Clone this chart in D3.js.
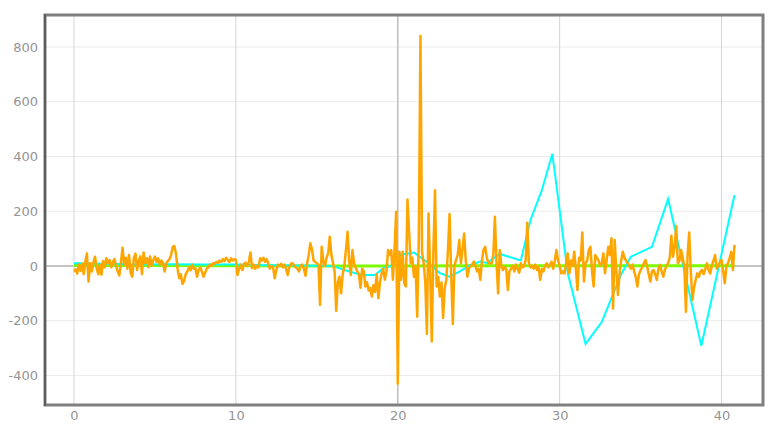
<!DOCTYPE html>
<meta charset="utf-8">
<style>
body { margin: 0; background: #fff; }
.tick text { font-family: "DejaVu Sans", sans-serif; font-size: 13px; fill: #949494; }
</style>
<body>
<script src="https://cdn.jsdelivr.net/npm/d3@7"></script>
<script>
var width = 779,
    height = 433;

// orange trace, sampled every 0.1 s from t = 0
var orangeStart = 0, orangeStep = 0.1;
var orangeValues = [
  -20, -12, -28, 5, -18, 8, -30, 15, 46, -57,
  10, -20, 12, 34, -8, -30, 5, -32, 18, -5,
  28, 10, 22, -5, 15, 25, 0, -20, -35, 12,
  67, 5, 30, -10, 40, -25, -39, 30, 45, -15,
  20, 35, -30, 49, 10, 28, -5, 35, 0, 22,
  34, 15, 28, 5, 20, 12, -20, 10, 18, 25,
  40, 70, 73, 45, -10, -45, -30, -65, -55, -30,
  -20, -5, -15, 5, -10, -8, -39, -15, -5, -20,
  -39, -25, -10, -5, 5, 0, 10, 8, 15, 12,
  20, 15, 25, 18, 30, 22, 15, 28, 20, 25,
  22, -33, -10, 5, -15, 8, 12, 0, 15, 49,
  -8, 5, -10, 0, -5, 28, 20, 30, 15, 25,
  10, -10, 0, -5, -45, -15, 5, 0, 8, -5,
  5, -10, -33, -5, 8, 10, 0, -5, -10, -20,
  0, 5, -10, -36, 10, 40, 83, 60, 20, 15,
  10, 5, -142, 70, 20, 0, 30, 46, 107, 40,
  10, -20, -164, -60, -39, -100, -30, 0, 60, 125,
  20, -33, 58, 10, -5, -20, -30, -80, -10, -20,
  -75, -60, -90, -80, -112, -70, -95, -30, -118, -60,
  -27, -10, -50, -20, 58, 40, 58, -50, 60, 198,
  -430, 52, -50, 52, -63, -75, 243, 125, 10, 30,
  -40, 0, -185, 100, 840, 52, 10, -60, -248, 192,
  -20, -276, 50, 277, -75, -40, -112, -60, -190, -80,
  -50, 60, 190, -30, -212, 0, 22, 40, 95, 10,
  60, 119, 20, -39, -10, 0, 5, 16, 0, -20,
  -10, -51, 20, 60, 70, 30, 10, 10, 10, 40,
  180, 10, -100, 58, 0, -15, -5, -10, -88, -20,
  -10, 0, -20, 5, -10, -25, 10, -5, 0, 20,
  158, 10, -5, 0, -10, 5, -15, -5, -51, -10,
  -20, 0, 10, -5, 5, 15, -10, 20, 58, 20,
  0, -27, -20, -27, 10, 46, -27, 20, 0, 52,
  -10, -88, 30, 20, 122, -57, 10, 20, 58, 70,
  -20, -75, 40, 30, 20, 0, 10, 46, -27, 20,
  70, 40, 101, -155, 95, -20, -106, -27, 20, 52,
  30, 20, 10, 0, -10, 5, -20, -40, -75, -30,
  -15, -5, 10, 22, 0, -30, -57, -20, -15, -30,
  -51, -10, 4, -20, -39, -15, 0, 10, 30, 110,
  34, 70, 146, 10, 20, 58, 30, -2, -167, 40,
  122, -20, -124, -80, -51, -27, -40, -20, -15, -30,
  -10, 10, -15, -27, 0, 20, 40, -10, 0, 15,
  22, -20, -63, 0, 10, 30, 52, -15, 77
];

var cyanTimes = [0, 2, 4, 6, 8, 10, 12, 14, 16, 17, 17.8, 18.6, 19.1, 19.6, 20.1, 21.0, 21.8, 22.6, 23.2, 23.8, 24.5, 25.1, 25.5, 26.3, 27.6, 28.2, 28.9, 29.55, 30.5, 31.6, 32.6, 33.8, 34.4, 35.7, 36.7, 38.75, 40.8];
var cyanValues = [10, 8, 5, 6, 5, 5, 3, 2, 0, -20, -33, -33, -8, 0, 40, 49, 15, -26, -39, -21, 4, 16, 11, 44, 20, 168, 277, 410, -26, -285, -205, -30, 34, 70, 245, -292, 259];

var greenTimes = [0, 5, 10, 15, 20, 25, 30, 35, 40.8];
var greenValues = [2, 2, 1, 0, 0, 1, 1, 1, 1];

var xTicks = [0, 10, 20, 30, 40];
var yTicks = [-400, -200, 0, 200, 400, 600, 800];

var svg = d3.select("body").append("svg")
    .attr("width", width)
    .attr("height", height);

var x = d3.scaleLinear().domain([-1.79, 42.56]).range([45, 763]);
var y = d3.scaleLinear().domain([-508, 917]).range([405, 15]);

// grid
svg.append("g").selectAll("line").data(yTicks).enter().append("line")
    .attr("x1", 45).attr("x2", 763)
    .attr("y1", function(d) { return y(d); }).attr("y2", function(d) { return y(d); })
    .attr("stroke", function(d) { return d === 0 ? "#c4c4c4" : "#ebebeb"; })
    .attr("stroke-width", function(d) { return d === 0 ? 2 : 1; });
svg.append("g").selectAll("line").data(xTicks).enter().append("line")
    .attr("y1", 15).attr("y2", 405)
    .attr("x1", function(d) { return x(d); }).attr("x2", function(d) { return x(d); })
    .attr("stroke", function(d) { return d === 20 ? "#bdbdbd" : "#d4d4d4"; })
    .attr("stroke-width", function(d) { return d === 20 ? 1.5 : 1; });

svg.append("clipPath").attr("id", "clip")
  .append("rect").attr("x", 45).attr("y", 15).attr("width", 718).attr("height", 390);

var plot = svg.append("g").attr("clip-path", "url(#clip)");

var line = d3.line()
    .x(function(d) { return x(d[0]); })
    .y(function(d) { return y(d[1]); });

var green = greenTimes.map(function(t, i) { return [t, greenValues[i]]; });
var cyan = cyanTimes.map(function(t, i) { return [t, cyanValues[i]]; });
var orange = orangeValues.map(function(v, i) { return [orangeStart + i * orangeStep, v]; });

plot.append("path").datum(green).attr("d", line)
    .attr("fill", "none").attr("stroke", "#7cfc00").attr("stroke-width", 3);
plot.append("path").datum(cyan).attr("d", line)
    .attr("fill", "none").attr("stroke", "#00ffff").attr("stroke-width", 2);
plot.append("path").datum(orange).attr("d", line)
    .attr("fill", "none").attr("stroke", "#ffa500").attr("stroke-width", 2.5)
    .attr("stroke-linejoin", "round");

// frame
svg.append("rect").attr("x", 45).attr("y", 15).attr("width", 718).attr("height", 390)
    .attr("fill", "none").attr("stroke", "#7f7f7f").attr("stroke-width", 3);
svg.append("line").attr("x1", 45).attr("x2", 45).attr("y1", 14).attr("y2", 406)
    .attr("stroke", "#5c5c5c").attr("stroke-width", 2);

// axes
svg.append("g").attr("transform", "translate(38,0)")
    .call(d3.axisLeft(y).tickValues(yTicks).tickSize(0).tickPadding(0)
      .tickFormat(function(d) { return String(d); }))
    .call(function(g) { g.select(".domain").remove(); });
svg.append("g").attr("transform", "translate(0,411)")
    .call(d3.axisBottom(x).tickValues(xTicks).tickSize(0).tickPadding(0)
      .tickFormat(function(d) { return String(d); }))
    .call(function(g) { g.select(".domain").remove(); });
</script>
</body>
